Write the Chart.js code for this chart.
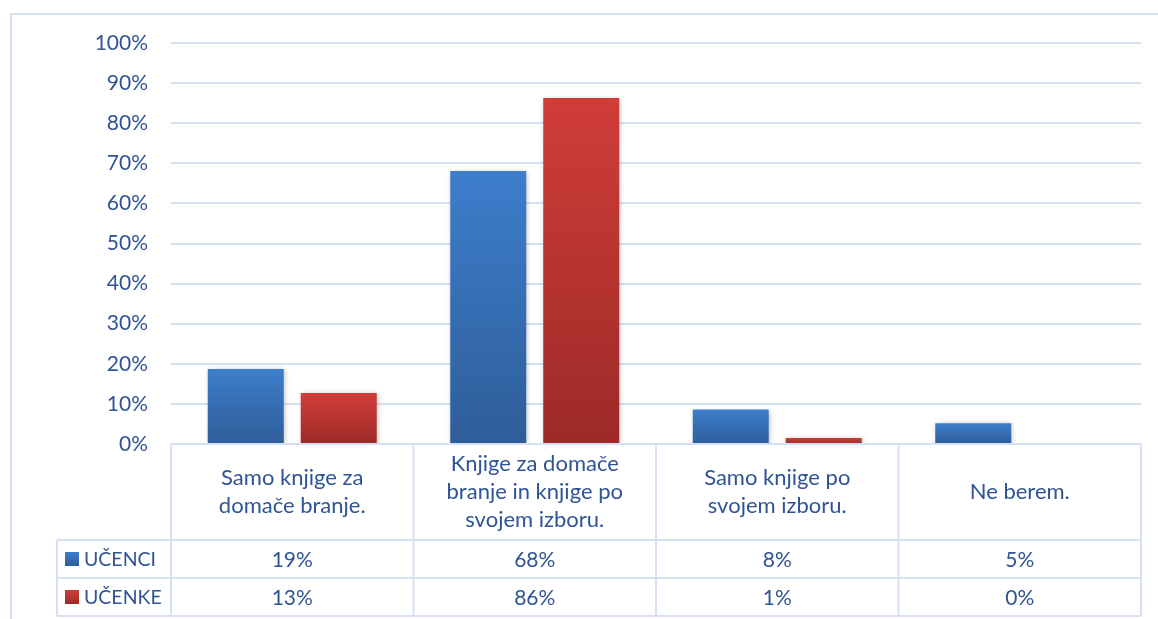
<!DOCTYPE html>
<html>
<head>
<meta charset="utf-8">
<script src="https://cdn.jsdelivr.net/npm/chart.js@4/dist/chart.umd.min.js"></script>
<style>
  html, body { margin: 0; padding: 0; background: #fff; }
  #wrap { width: 1158px; height: 619px; position: relative; }
</style>
</head>
<body>
<div id="wrap"><canvas id="readingChart"></canvas></div>
<script>
// categories (multi-line, as shown in the table header)
const categories = [
    ['Samo knjige za', 'domače branje.'],
    ['Knjige za domače', 'branje in knjige po', 'svojem izboru.'],
    ['Samo knjige po', 'svojem izboru.'],
    ['Ne berem.']
];
const seriesNames = ['UČENCI', 'UČENKE'];

// bar heights (percent)
const boysValues = [18.7, 68.1, 8.6, 5.2];
const girlsValues = [12.7, 86.3, 1.5, 0.2];

// values printed in the data table
const boysTable = ['19%', '68%', '8%', '5%'];
const girlsTable = ['13%', '86%', '1%', '0%'];

const yTicks = [0, 10, 20, 30, 40, 50, 60, 70, 80, 90, 100];

const TEXT = '#2f5496';
const LINE = '#d5e1f2';
const FONT = 'Lato';

const palette = {
    blue: ['#3d7ecc', '#2e5d99'],
    red: ['#d03d39', '#9d2a28']
};

function barGradient(colours) {
    return function(c) {
        const chart = c.chart;
        const y = chart.scales.y;
        if (!y || !c.parsed) return colours[0];
        const top = y.getPixelForValue(c.parsed.y);
        const base = y.getPixelForValue(0);
        if (!isFinite(top) || !isFinite(base) || base - top < 1) return colours[0];
        const g = chart.ctx.createLinearGradient(0, top, 0, base);
        g.addColorStop(0, colours[0]);
        g.addColorStop(1, colours[1]);
        return g;
    };
}

// light shadow under the bars
const shadowPlugin = {
    id: 'barShadow',
    beforeDatasetsDraw(chart) {
        const ctx = chart.ctx;
        ctx.save();
        ctx.shadowColor = 'rgba(0,0,0,0.28)';
        ctx.shadowBlur = 5;
        ctx.shadowOffsetX = 1;
        ctx.shadowOffsetY = 1;
    },
    afterDatasetsDraw(chart) {
        chart.ctx.restore();
    }
};

// outer frame and the data table under the plot
const tablePlugin = {
    id: 'dataTable',
    beforeDraw(chart) {
        const ctx = chart.ctx;
        ctx.save();
        ctx.strokeStyle = LINE;
        ctx.lineWidth = 2;
        ctx.beginPath();
        ctx.moveTo(11, 619);
        ctx.lineTo(11, 14);
        ctx.lineTo(1158, 14);
        ctx.stroke();
        ctx.restore();
    },
    afterDraw(chart) {
        const ctx = chart.ctx;
        const area = chart.chartArea;
        const y = chart.scales.y;
        const n = categories.length;
        const colW = (area.right - area.left) / n;
        const top = y.getPixelForValue(0);
        const headBottom = top + 96;
        const row1Bottom = headBottom + 38;
        const row2Bottom = row1Bottom + 38;
        const legendLeft = 57;

        ctx.save();
        ctx.strokeStyle = LINE;
        ctx.lineWidth = 2;
        ctx.beginPath();
        // horizontal lines
        ctx.moveTo(area.left, top); ctx.lineTo(area.right, top);
        ctx.moveTo(legendLeft, headBottom); ctx.lineTo(area.right, headBottom);
        ctx.moveTo(legendLeft, row1Bottom); ctx.lineTo(area.right, row1Bottom);
        ctx.moveTo(legendLeft, row2Bottom); ctx.lineTo(area.right, row2Bottom);
        // vertical lines
        for (let i = 0; i <= n; i++) {
            const x = area.left + i * colW;
            ctx.moveTo(x, top); ctx.lineTo(x, row2Bottom);
        }
        ctx.moveTo(legendLeft, headBottom); ctx.lineTo(legendLeft, row2Bottom);
        ctx.stroke();

        ctx.fillStyle = TEXT;
        ctx.textAlign = 'center';
        ctx.textBaseline = 'middle';
        const lineH = 28;
        categories.forEach((lines, i) => {
            const cx = chart.scales.x.getPixelForValue(i);
            const cy = (top + headBottom) / 2;
            const startY = cy - (lines.length - 1) * lineH / 2;
            ctx.font = '22px ' + FONT;
            lines.forEach((t, j) => ctx.fillText(t, cx, startY + j * lineH));
            ctx.font = '21px ' + FONT;
            ctx.fillText(boysTable[i], cx, (headBottom + row1Bottom) / 2 + 1);
            ctx.fillText(girlsTable[i], cx, (row1Bottom + row2Bottom) / 2 + 1);
        });

        // legend keys
        ctx.font = '19.5px ' + FONT;
        const rows = [[headBottom, row1Bottom, palette.blue], [row1Bottom, row2Bottom, palette.red]];
        rows.forEach((r, k) => {
            const my = (r[0] + r[1]) / 2;
            const g = ctx.createLinearGradient(0, my - 7, 0, my + 7);
            g.addColorStop(0, r[2][0]);
            g.addColorStop(1, r[2][1]);
            ctx.fillStyle = g;
            ctx.fillRect(65, my - 7, 14, 14);
            ctx.fillStyle = TEXT;
            ctx.textAlign = 'left';
            ctx.fillText(seriesNames[k], 84, my + 1);
        });
        ctx.restore();
    }
};

const ctx = document.getElementById('readingChart').getContext('2d');
new Chart(ctx, {
    type: 'bar',
    data: {
        labels: categories.map(c => c.join(' ')),
        datasets: [
            {
                label: seriesNames[0],
                data: boysValues,
                backgroundColor: barGradient(palette.blue),
                categoryPercentage: 0.767,
                barPercentage: 0.817
            },
            {
                label: seriesNames[1],
                data: girlsValues,
                backgroundColor: barGradient(palette.red),
                categoryPercentage: 0.767,
                barPercentage: 0.817
            }
        ]
    },
    options: {
        responsive: true,
        maintainAspectRatio: false,
        animation: false,
        layout: {
            padding: { left: 11, right: 17, top: 43, bottom: 175 }
        },
        scales: {
            x: {
                display: false,
                offset: true
            },
            y: {
                min: 0,
                max: 100,
                afterFit: s => { s.width = 160; },
                afterBuildTicks: s => { s.ticks = yTicks.map(v => ({ value: v })); },
                border: { display: false },
                grid: {
                    color: LINE,
                    lineWidth: 2,
                    drawTicks: false
                },
                ticks: {
                    padding: 23,
                    color: TEXT,
                    font: { family: FONT, size: 21 },
                    callback: v => v + '%'
                }
            }
        },
        plugins: {
            legend: { display: false },
            tooltip: { enabled: false },
            title: { display: false }
        }
    },
    plugins: [shadowPlugin, tablePlugin]
});
</script>
</body>
</html>
